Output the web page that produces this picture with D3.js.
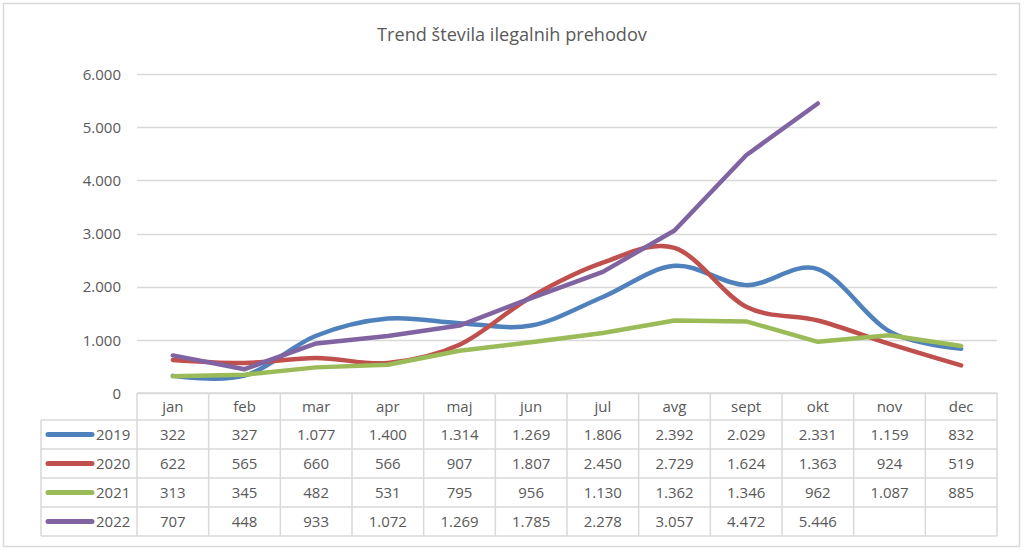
<!DOCTYPE html>
<html><head><meta charset="utf-8">
<script src="https://cdn.jsdelivr.net/npm/d3@7"></script>
<style>body{margin:0;background:#fff}svg{display:block}text{font-family:"Open Sans",sans-serif;fill:#595959}</style>
</head><body>
<svg id="c" width="1024" height="551"></svg>
<script>
const months = ["jan","feb","mar","apr","maj","jun","jul","avg","sept","okt","nov","dec"];
const years = ["2019","2020","2021","2022"];
const v2019 = [322,327,1077,1400,1314,1269,1806,2392,2029,2331,1159,832];
const v2020 = [622,565,660,566,907,1807,2450,2729,1624,1363,924,519];
const v2021 = [313,345,482,531,795,956,1130,1362,1346,962,1087,885];
const v2022 = [707,448,933,1072,1269,1785,2278,3057,4472,5446,null,null];
const yTicks = [0,1000,2000,3000,4000,5000,6000];
const title = "Trend števila ilegalnih prehodov";
const colors = ["#4f81bd","#c0504d","#9bbb59","#8064a2"];
const smooth = [true,true,false,false];
const series = [v2019,v2020,v2021,v2022];

const svg = d3.select("#c");
const fmt = v => v==null ? "" : d3.format(",")(v).replace(/,/g,".");

svg.append("rect").attr("x",3.5).attr("y",3.5).attr("width",1016).attr("height",543)
  .attr("fill","#fff").attr("stroke","#d9d9d9").attr("stroke-width",1.5);

const x = d3.scaleBand().domain(months).range([137,997]);
const y = d3.scaleLinear().domain([0,6000]).range([393,74]);

// title
const t = svg.append("text").attr("x",512).attr("y",41).attr("text-anchor","middle")
  .attr("font-size",16).text(title);
const tl = t.node().getComputedTextLength();
t.attr("font-size", 16*270/tl);

// grid
svg.append("g").selectAll("line").data(yTicks).join("line")
  .attr("x1",137).attr("x2",997).attr("y1",d=>Math.round(y(d))+0.5).attr("y2",d=>Math.round(y(d))+0.5)
  .attr("stroke","#d9d9d9").attr("stroke-width",1.5);

// y axis labels
const yAxis = d3.axisLeft(y).tickValues(yTicks).tickFormat(fmt).tickSize(0).tickPadding(0);
const ga = svg.append("g").attr("transform","translate(121,0)").call(yAxis);
ga.select(".domain").remove();
ga.selectAll("text").attr("font-size",15).attr("fill","#595959").style("font-family","Open Sans, sans-serif").attr("dy","0.35em");

// lines
series.forEach((s,i)=>{
  const line = d3.line().defined(d=>d!=null)
    .x((d,j)=>x(months[j])+x.bandwidth()/2).y(d=>y(d))
    .curve(smooth[i] ? d3.curveCatmullRom.alpha(0) : d3.curveLinear);
  svg.append("path").datum(s).attr("d",line).attr("fill","none")
    .attr("stroke",colors[i]).attr("stroke-width",4.5).attr("stroke-linecap","round").attr("stroke-linejoin","round");
});

// table
const hTop = 393, hH = 27, rH = 29;
const rowTop = i => hTop + hH + i*rH;
const g = svg.append("g");
const bc = "#d9d9d9";
// horizontal lines
g.append("line").attr("x1",137).attr("x2",997).attr("y1",hTop).attr("y2",hTop).attr("stroke",bc).attr("stroke-width",1.5);
for(let i=0;i<=years.length;i++){
  g.append("line").attr("x1",41).attr("x2",997).attr("y1",rowTop(i)).attr("y2",rowTop(i)).attr("stroke",bc).attr("stroke-width",1.5);
}
// vertical lines
g.append("line").attr("x1",41).attr("x2",41).attr("y1",rowTop(0)).attr("y2",rowTop(years.length)).attr("stroke",bc).attr("stroke-width",1.5);
months.concat(["end"]).forEach((m,j)=>{
  const xx = m==="end" ? 997 : x(m);
  g.append("line").attr("x1",xx).attr("x2",xx).attr("y1",hTop).attr("y2",rowTop(years.length)).attr("stroke",bc).attr("stroke-width",1.5);
});
// header
g.selectAll("text.h").data(months).join("text").attr("class","h")
  .attr("x",d=>x(d)+x.bandwidth()/2).attr("y",hTop+hH/2).attr("dy","0.35em")
  .attr("text-anchor","middle").attr("font-size",15).text(d=>d);
// rows
years.forEach((yr,i)=>{
  const cy = rowTop(i)+rH/2;
  g.append("line").attr("x1",48).attr("x2",92).attr("y1",cy).attr("y2",cy)
    .attr("stroke",colors[i]).attr("stroke-width",5).attr("stroke-linecap","round");
  g.append("text").attr("x",96).attr("y",cy).attr("dy","0.35em").attr("font-size",15).text(yr);
  g.selectAll(null).data(series[i]).join("text")
    .attr("x",(d,j)=>x(months[j])+x.bandwidth()/2).attr("y",cy).attr("dy","0.35em")
    .attr("text-anchor","middle").attr("font-size",15).text(d=>fmt(d));
});
</script>
</body></html>
